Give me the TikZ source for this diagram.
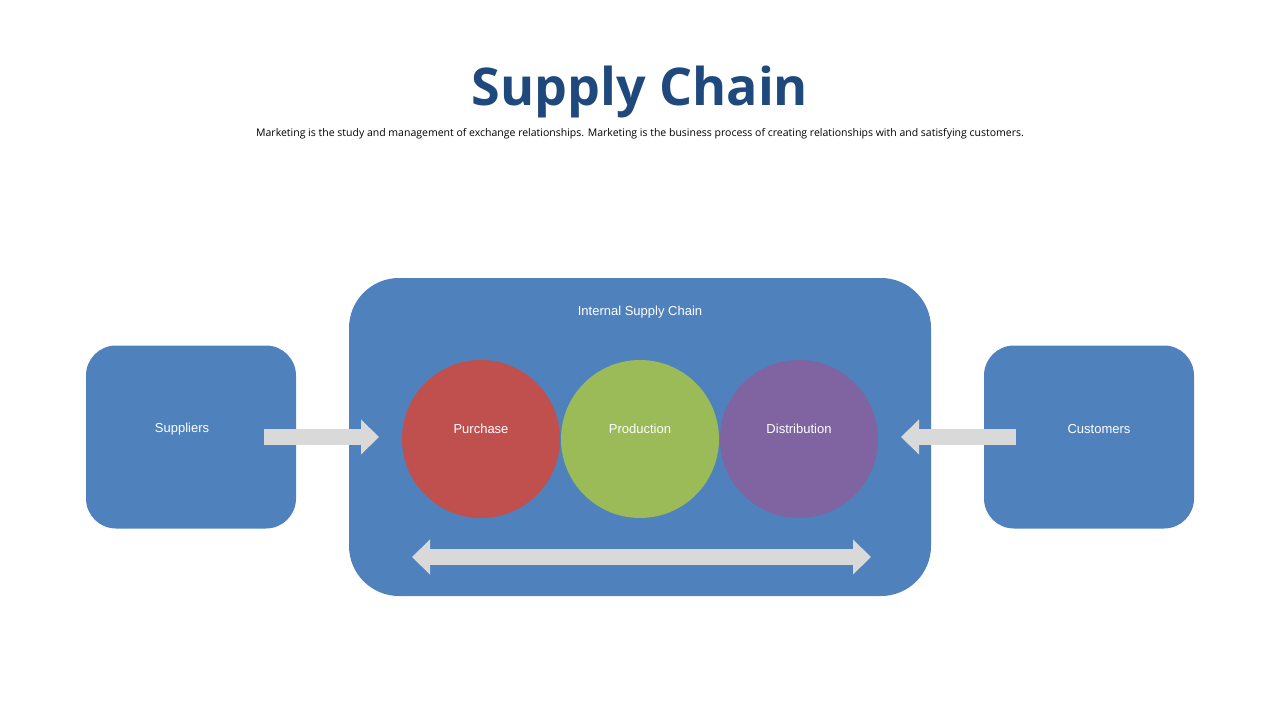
\documentclass[tikz,border=0pt]{standalone}
\usepackage{fontspec}
\setmainfont{Liberation Sans}
\newfontfamily\titlefont{Open Sans}
\usetikzlibrary{arrows.meta,positioning}
\definecolor{boxblue}{RGB}{79,129,189}
\definecolor{titleblue}{RGB}{31,73,125}
\definecolor{cred}{RGB}{192,80,77}
\definecolor{cgreen}{RGB}{155,187,89}
\definecolor{cpurple}{RGB}{128,100,162}
\definecolor{arrowgray}{RGB}{217,217,217}
\tikzset{
  outer/.style={fill=boxblue,rounded corners=30pt,minimum width=210pt,minimum height=183pt,text=white,font=\fontsize{13}{15}\selectfont},
  stage/.style={circle,minimum size=158pt,text=white,font=\fontsize{13}{15}\selectfont},
  fat/.style={draw=arrowgray,line width=16pt,-{Triangle[width=34pt,length=18pt]}},
}
\begin{document}
\begin{tikzpicture}[x=1pt,y=1pt]
  \useasboundingbox (0,0) rectangle (1280,-720);
  \node[font=\titlefont\bfseries\fontsize{52}{60}\selectfont,text=titleblue] (title) at (640,-92) {Supply Chain};
  \node[font=\titlefont\fontsize{10.5}{12}\selectfont] (sub) at (640,-134) {Marketing is the study and management of exchange relationships. Marketing is the  business process of creating relationships with and satisfying customers.};
  \node[fill=boxblue,rounded corners=50pt,minimum width=582pt,minimum height=318pt] (inner) at (640,-437) {};
  \node[text=white,font=\fontsize{13}{15}\selectfont] (innerlbl) at (640,-312) {Internal Supply Chain};
  \node[outer] (sup) at (191,-437) {};
  \node[text=white,font=\fontsize{13}{15}\selectfont] at (182,-429) {Suppliers};
  \node[outer] (cus) at (1089,-437) {};
  \node[text=white,font=\fontsize{13}{15}\selectfont] at (1099,-429) {Customers};
  \node[stage,fill=cred] (pur) at (481,-439) {};
  \node[stage,fill=cgreen] (pro) at (640,-439) {};
  \node[stage,fill=cpurple] (dis) at (799,-439) {};
  \node[text=white,font=\fontsize{13}{15}\selectfont] at (481,-429) {Purchase};
  \node[text=white,font=\fontsize{13}{15}\selectfont] at (640,-429) {Production};
  \node[text=white,font=\fontsize{13}{15}\selectfont] at (799,-429) {Distribution};
  % arrows
  \coordinate (s1) at (264,-437);
  \coordinate (s2) at (379,-437);
  \coordinate (c1) at (1016,-437);
  \coordinate (c2) at (901,-437);
  \coordinate (b1) at (412,-557);
  \coordinate (b2) at (871,-557);
  \draw[fat] (s1) -- (s2);
  \draw[fat] (c1) -- (c2);
  \draw[fat,{Triangle[width=34pt,length=18pt]}-{Triangle[width=34pt,length=18pt]}] (b1) -- (b2);
\end{tikzpicture}
\end{document}
